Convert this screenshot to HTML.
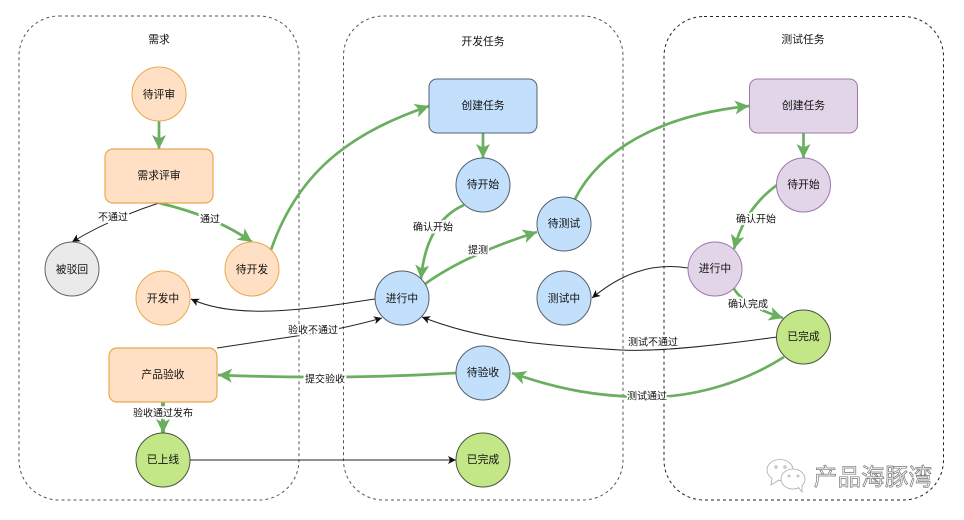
<!DOCTYPE html>
<html><head><meta charset="utf-8"><style>
html,body{margin:0;padding:0;background:#fff;width:964px;height:520px;overflow:hidden}
svg{display:block}
text{font-family:"Liberation Sans","Noto Sans CJK SC",sans-serif;font-size:10.8px;fill:#111;text-anchor:middle;dominant-baseline:central;transform:translateY(1px)}
.l{stroke:#fff;stroke-width:3.5px;paint-order:stroke;font-size:10px}
.g{fill:none;stroke:#6aae60;stroke-width:2.7}
.b{fill:none;stroke:#222;stroke-width:1}
.c{fill:none;stroke:#555;stroke-width:1;stroke-dasharray:3 3}
.o{fill:#ffe0c4;stroke:#e8a94f}.bl{fill:#c2e0fc;stroke:#56616e}.p{fill:#e1d5e7;stroke:#9d77ae}.gr{fill:#c3e787;stroke:#4a5345}
</style></head><body>
<svg width="964" height="520" viewBox="0 0 964 520" xmlns="http://www.w3.org/2000/svg">
<defs>
<marker id="ga" markerUnits="userSpaceOnUse" markerWidth="18" markerHeight="18" refX="15" refY="9" orient="auto"><path d="M1,2 L15,9 L1,16 L4.5,9 Z" fill="#6aae60"/></marker>
<marker id="ba" markerUnits="userSpaceOnUse" markerWidth="10" markerHeight="10" refX="9" refY="5" orient="auto"><path d="M1,1 L9,5 L1,9 L3,5 Z" fill="#111"/></marker>
</defs>
<rect class="c" x="19" y="16" width="280" height="484" rx="40"/>
<rect class="c" x="343.5" y="16" width="279.5" height="484" rx="40"/>
<rect class="c" x="664" y="16.5" width="279.5" height="483.5" rx="40" style="stroke:#222"/>
<text x="159" y="39">需求</text><text x="483" y="41">开发任务</text><text x="803" y="39">测试任务</text>

<path class="g" marker-end="url(#ga)" d="M159,121 L159,149"/>
<path class="g" marker-end="url(#ga)" d="M159,203 Q215,216 252,242"/>
<path class="b" marker-end="url(#ba)" d="M159,203 Q110,219 72,242"/>
<path class="g" marker-end="url(#ga)" d="M271,250 C300,165 360,130 429,106"/>
<path class="g" marker-end="url(#ga)" d="M483,133 L483,158"/>
<path class="g" marker-end="url(#ga)" d="M464,205 Q426,222 421,279"/>
<path class="g" marker-end="url(#ga)" d="M425,284 Q465,255 537,232"/>
<path class="g" marker-end="url(#ga)" d="M575,199 C600,150 660,115 749,106"/>
<path class="g" marker-end="url(#ga)" d="M803.5,133 L803.5,158"/>
<path class="g" marker-end="url(#ga)" d="M777,185 Q745,208 734,249"/>
<path class="b" marker-end="url(#ba)" d="M688,268 C650,262 620,275 592,298"/>
<path class="g" marker-end="url(#ga)" d="M733,287 Q742,305 783,318"/>
<path class="b" marker-end="url(#ba)" d="M777,337 C720,345 660,352 620,350 C540,345 480,340 422,317"/>
<path class="g" marker-end="url(#ga)" d="M784,357 C740,385 690,397 650,397 C600,397 560,390 512,373"/>
<path class="g" marker-end="url(#ga)" d="M456,373 Q340,380 218,375"/>
<path class="g" marker-end="url(#ga)" style="stroke-width:4" d="M163,402 L163,433"/>
<path class="b" marker-end="url(#ba)" d="M190,460 L456,460"/>
<path class="b" marker-end="url(#ba)" d="M375,299 C320,307 240,322 191,299"/>
<path class="b" marker-end="url(#ba)" d="M217,348 L290,337 Q340,330 382,318"/>

<circle class="o" cx="159" cy="94" r="27"/><text x="159" y="94">待评审</text>
<rect class="o" style="stroke-width:1.2" x="105" y="149" width="108" height="54" rx="8"/><text x="159" y="175">需求评审</text>
<circle cx="72" cy="269" r="27" fill="#eaeaea" stroke="#666"/><text x="72" y="269">被驳回</text>
<circle class="o" cx="252" cy="269" r="27"/><text x="252" y="269">待开发</text>
<circle class="o" cx="163" cy="298" r="27"/><text x="163" y="298">开发中</text>
<rect class="o" style="stroke-width:1.2" x="109" y="348" width="108" height="54" rx="8"/><text x="163" y="374">产品验收</text>
<circle class="gr" cx="163" cy="460" r="27"/><text x="163" y="459">已上线</text>

<rect class="bl" x="429" y="79" width="108" height="54" rx="8"/><text x="483" y="105">创建任务</text>
<circle class="bl" cx="483" cy="185" r="27"/><text x="483" y="184">待开始</text>
<circle class="bl" cx="564" cy="224" r="27"/><text x="564" y="223">待测试</text>
<circle class="bl" cx="402" cy="298" r="27"/><text x="402" y="298">进行中</text>
<circle class="bl" cx="564" cy="298" r="27"/><text x="564" y="298">测试中</text>
<circle class="bl" cx="483" cy="373" r="27"/><text x="483" y="372">待验收</text>
<circle class="gr" cx="483" cy="460" r="27"/><text x="483" y="459">已完成</text>

<rect class="p" x="749.5" y="79" width="108" height="54" rx="8"/><text x="803.5" y="105">创建任务</text>
<circle class="p" cx="803.5" cy="185" r="27"/><text x="803.5" y="184">待开始</text>
<circle class="p" cx="715" cy="269" r="27"/><text x="715" y="268">进行中</text>
<circle class="gr" cx="803.5" cy="337" r="27"/><text x="803.5" y="336">已完成</text>

<text class="l" x="113" y="217">不通过</text>
<text class="l" x="210" y="219">通过</text>
<text class="l" x="433" y="227">确认开始</text>
<text class="l" x="478" y="250">提测</text>
<text class="l" x="313" y="330">验收不通过</text>
<text class="l" x="325" y="379">提交验收</text>
<text class="l" x="163" y="413">验收通过发布</text>
<text class="l" x="653" y="342">测试不通过</text>
<text class="l" x="647" y="396">测试通过</text>
<text class="l" x="756" y="219">确认开始</text>
<text class="l" x="748" y="304">确认完成</text>

<g fill="#fff" stroke="#aaa" stroke-width="0.8">
<ellipse cx="780" cy="470" rx="13" ry="10.5"/><path d="M772,478 L771,485 L779,480"/>
<ellipse cx="793" cy="479" rx="12" ry="10"/><path d="M798,487 L802,492 L802,485"/>
<circle cx="776" cy="467" r="1.2"/><circle cx="785" cy="467" r="1.2"/><circle cx="789" cy="476" r="1"/><circle cx="798" cy="476" r="1"/>
</g>
<text x="873" y="476" style="font-size:23.5px;fill:#fff;stroke:#777;stroke-width:0.7;letter-spacing:0.2px">产品海豚湾</text>
</svg>
</body></html>
